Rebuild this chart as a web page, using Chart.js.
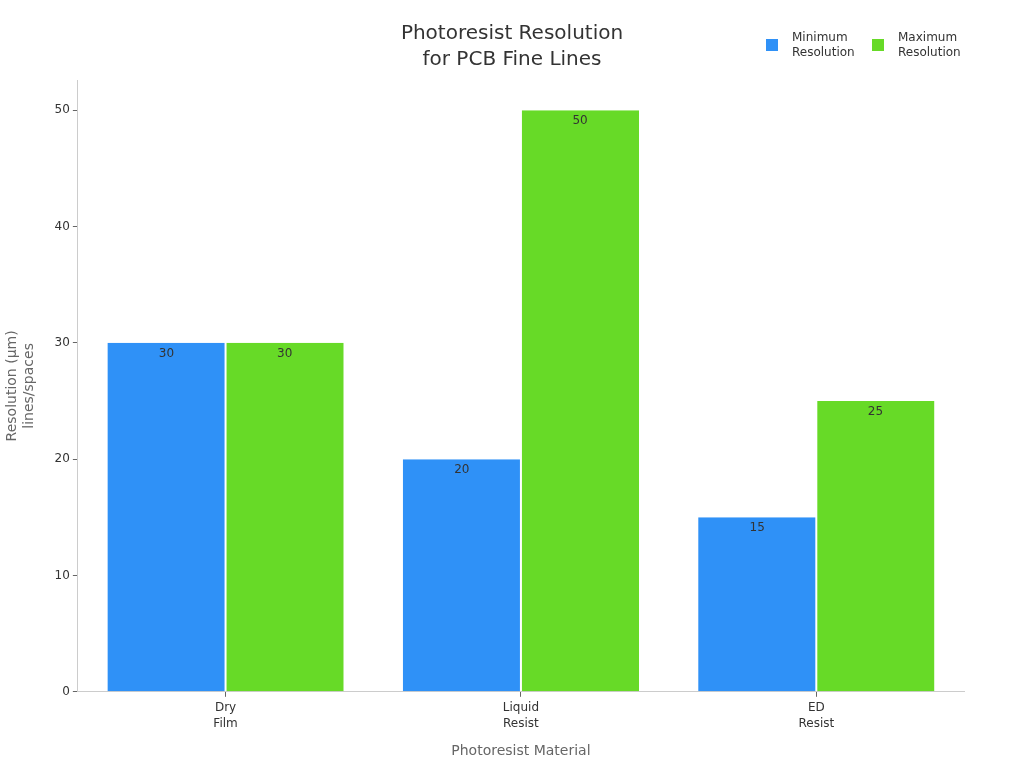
<!DOCTYPE html>
<html><head><meta charset="utf-8">
<script src="https://cdn.jsdelivr.net/npm/chart.js@4/dist/chart.umd.min.js"></script>
<style>html,body{margin:0;padding:0;background:#fff}#wrap{width:1024px;height:768px}</style>
</head><body><div id="wrap"><canvas id="c" width="1024" height="768"></canvas></div>
<script>
const categories = [["Dry","Film"],["Liquid","Resist"],["ED","Resist"]];
const minResolution = [30, 20, 15];
const maxResolution = [30, 50, 25];
const seriesNames = [["Minimum","Resolution"],["Maximum","Resolution"]];
const titleLines = ["Photoresist Resolution", "for PCB Fine Lines"];
const colors = ["#2F91F7", "#67DA27"];
const FONT = "'DejaVu Sans', sans-serif";

const labelPlugin = {
  id: 'valLabels',
  afterDatasetsDraw(chart) {
    const ctx = chart.ctx;
    ctx.save();
    ctx.font = "12px " + FONT;
    ctx.fillStyle = "#333";
    ctx.textAlign = "center";
    ctx.textBaseline = "middle";
    chart.data.datasets.forEach((ds, i) => {
      chart.getDatasetMeta(i).data.forEach((bar, j) => {
        ctx.fillText(String(ds.data[j]), bar.x, bar.y + 11);
      });
    });
    ctx.restore();
  }
};
const legendPlugin = {
  id: 'customLegend',
  afterDraw(chart) {
    const ctx = chart.ctx;
    ctx.save();
    ctx.font = "12px " + FONT;
    ctx.textBaseline = "middle";
    const xs = [766, 872];
    chart.data.datasets.forEach((ds, i) => {
      ctx.fillStyle = ds.backgroundColor;
      ctx.fillRect(xs[i], 39, 12, 12);
      ctx.fillStyle = "#333";
      ctx.textAlign = "left";
      ds.label.forEach((t, k) => ctx.fillText(t, xs[i] + 26, 38 + k * 15));
    });
    // title centered on canvas
    ctx.font = "20px " + FONT;
    ctx.fillStyle = "#333";
    ctx.textAlign = "center";
    titleLines.forEach((t, k) => ctx.fillText(t, chart.width / 2, 34 + k * 26));
    ctx.restore();
  }
};

new Chart(document.getElementById('c'), {
  type: 'bar',
  data: {
    labels: categories,
    datasets: [
      { label: seriesNames[0], data: minResolution, backgroundColor: colors[0], borderColor: '#fff', borderWidth: {left:0,right:1,top:0,bottom:0}, borderSkipped: false },
      { label: seriesNames[1], data: maxResolution, backgroundColor: colors[1], borderColor: '#fff', borderWidth: {left:1,right:0,top:0,bottom:0}, borderSkipped: false }
    ]
  },
  options: {
    responsive: false,
    animation: false,
    devicePixelRatio: 1,
    layout: { padding: { left: 0, right: 60, top: 80, bottom: 4 } },
    datasets: { bar: { categoryPercentage: 0.8, barPercentage: 1.0 } },
    plugins: {
      legend: { display: false },
      tooltip: { enabled: false },
      title: { display: false }
    },
    scales: {
      x: {
        grid: { display: true, offset: false, drawOnChartArea: false, drawTicks: true, tickLength: 5, color: '#666' },
        border: { display: true, color: '#ccc' },
        ticks: { color: '#333', font: { family: FONT, size: 12, lineHeight: 1.35 }, padding: 3, maxRotation: 0 },
        title: { display: true, text: "Photoresist Material", color: '#666', font: { family: FONT, size: 14 }, padding: { top: 8 } }
      },
      y: {
        min: 0, max: 52.6,
        afterBuildTicks(axis) { axis.ticks = axis.ticks.filter(t => Math.abs(t.value % 10) < 1e-6); },
        grid: { display: true, drawOnChartArea: false, drawTicks: true, tickLength: 5, color: '#666' },
        border: { display: true, color: '#ccc' },
        ticks: { stepSize: 10, color: '#333', font: { family: FONT, size: 12 }, padding: 3 },
        title: { display: true, text: ["Resolution (µm)", "lines/spaces"], color: '#666', font: { family: FONT, size: 14 }, padding: { top: 4, bottom: 14 } }
      }
    }
  },
  plugins: [labelPlugin, legendPlugin]
});
</script></body></html>
